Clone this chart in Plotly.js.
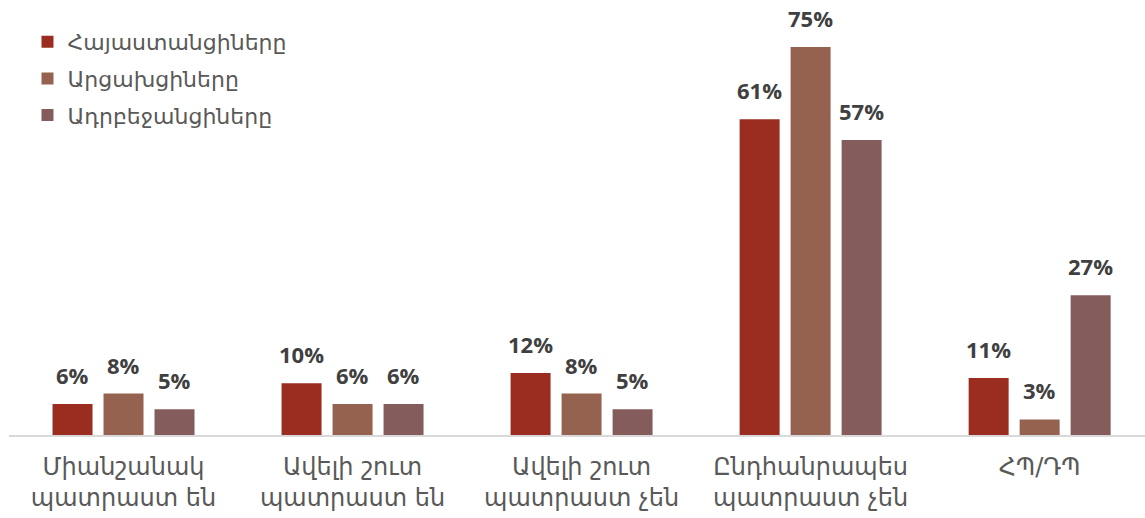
<!DOCTYPE html>
<html>
<head>
<meta charset="utf-8">
<script src="https://cdn.plot.ly/plotly-3.0.1.min.js"></script>
<style>html,body{margin:0;padding:0;background:#fff;}#chart{width:1145px;height:518px;}</style>
</head>
<body>
<div id="chart"></div>
<script>
const categories = [
  "Միանշանակ<br>պատրաստ են",
  "Ավելի շուտ<br>պատրաստ են",
  "Ավելի շուտ<br>պատրաստ չեն",
  "Ընդհանրապես<br>պատրաստ չեն",
  "ՀՊ/ԴՊ"
];
const seriesNames = ["Հայաստանցիները", "Արցախցիները", "Ադրբեջանցիները"];
const armenians = [6, 10, 12, 61, 11];
const artsakh = [8, 6, 8, 75, 3];
const azerbaijanis = [5, 6, 5, 57, 27];
const seriesValues = [armenians, artsakh, azerbaijanis];
const colors = ["#9b2c20", "#956250", "#855c5c"];

const idx = categories.map((c, i) => i);
const traces = seriesValues.map((vals, s) => ({
  type: "bar",
  name: seriesNames[s],
  x: idx,
  y: vals,
  marker: {color: colors[s]},
  legendgroup: "g" + s,
  hoverinfo: "skip"
}));

const slot = 0.2225; // offset in category units between bars in a group
const annotations = [];
seriesValues.forEach((vals, s) => {
  vals.forEach((v, i) => {
    annotations.push({
      x: i + (s - 1) * slot,
      y: v,
      xref: "x", yref: "y",
      text: "<b>" + v + "%</b>",
      showarrow: false,
      yanchor: "bottom",
      yshift: 12,
      font: {family: "Open Sans, DejaVu Sans, sans-serif", size: 22, color: "#404040"}
    });
  });
});

const layout = {
  width: 1145, height: 518,
  margin: {l: 8.5, r: 0, t: 21, b: 83},
  paper_bgcolor: "#ffffff",
  plot_bgcolor: "#ffffff",
  barmode: "group",
  bargap: 0.332,
  bargroupgap: 0.216,
  showlegend: true,
  legend: {
    x: (27 - 8.5) / 1136.5, y: 1.0,
    xanchor: "left", yanchor: "top",
    font: {family: "DejaVu Sans, Noto Sans, sans-serif", size: 22, color: "#595959"},
    bgcolor: "rgba(0,0,0,0)",
    tracegroupgap: 5,
    traceorder: "grouped"
  },
  xaxis: {
    type: "linear",
    range: [-0.5, 4.46],
    tickvals: idx,
    ticktext: categories,
    showgrid: false,
    zeroline: false,
    showline: true,
    linecolor: "#d9d9d9",
    linewidth: 2,
    ticks: "",
    ticklabelstandoff: 9,
    tickfont: {family: "DejaVu Sans, Noto Sans, sans-serif", size: 24, color: "#595959"},
    fixedrange: true
  },
  yaxis: {
    range: [0, 80],
    visible: false,
    showgrid: false,
    zeroline: false,
    fixedrange: true
  },
  annotations: annotations
};

Plotly.newPlot("chart", traces, layout, {displayModeBar: false, staticPlot: true});
</script>
</body>
</html>
